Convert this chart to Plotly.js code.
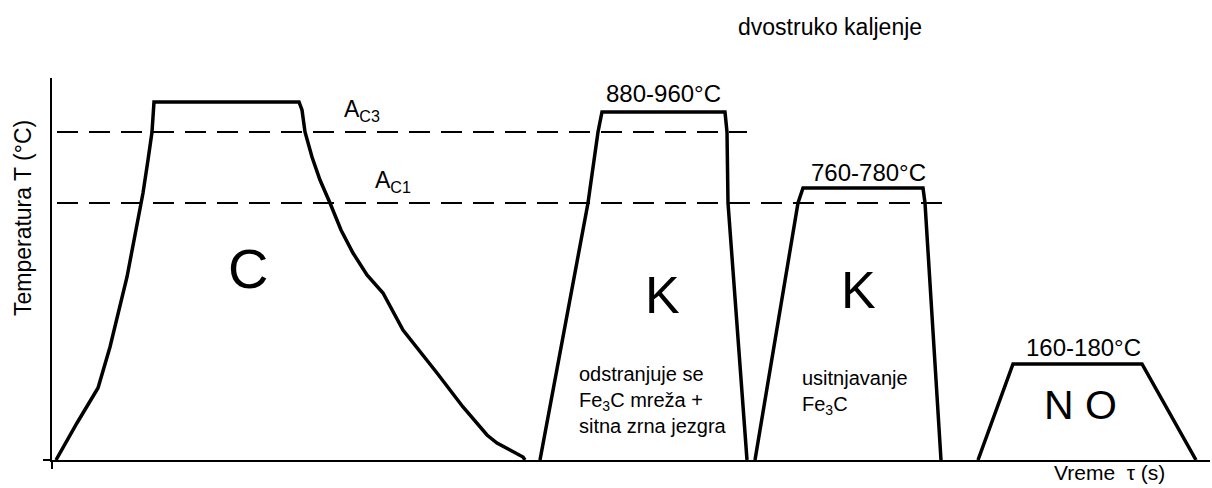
<!DOCTYPE html>
<html>
<head>
<meta charset="utf-8">
<script src="https://cdn.plot.ly/plotly-3.0.1.min.js"></script>
<style>html,body{margin:0;padding:0;background:#fff;}#chart{width:1212px;height:488px;}</style>
</head>
<body>
<div id="chart"></div>
<script>
// Schematic time (arbitrary units) vs. temperature (arbitrary units, height above axis)
const cTime = [4,25,46,58,75,91,96,100,102,247,250,253,260,268,278,289,301,315,331,351,385,411,435,445,458,471,473];
const cTemp = [0,37,72,113,183,267,300,328,358,358,350,328,303,280,257,230,207,185,167,130,87,53,25,17,10,3,0];

const k1Time = [488,536,546,550,673,675,676,695];
const k1Temp = [0,257,328,348,348,328,257,0];

const k2Time = [703,746,751,871,873,889];
const k2Temp = [0,257,272,272,257,0];

const noTime = [926,961,1090,1144];
const noTemp = [0,96,96,0];

const ac3Time = [5,695];
const ac3Temp = [328,328];
const ac1Time = [5,890];
const ac1Temp = [257,257];

const FONT = "Liberation Sans, Arial, sans-serif";

const solid = {color:'#000', width:3.5};
const dashed = {color:'#000', width:1.8, dash:'21px,11px'};

const traces = [
  {x:ac3Time, y:ac3Temp, mode:'lines', line:dashed, hoverinfo:'skip'},
  {x:ac1Time, y:ac1Temp, mode:'lines', line:dashed, hoverinfo:'skip'},
  {x:cTime, y:cTemp, mode:'lines', line:solid},
  {x:k1Time, y:k1Temp, mode:'lines', line:solid},
  {x:k2Time, y:k2Temp, mode:'lines', line:solid},
  {x:noTime, y:noTemp, mode:'lines', line:solid}
];

function ann(x, y, text, size, extra) {
  return Object.assign({x:x, y:y, xref:'x', yref:'y', text:text, showarrow:false,
    xanchor:'center', yanchor:'middle', font:{family:FONT, size:size, color:'#000'}}, extra||{});
}
function pann(x, y, text, size, extra) {
  return ann(x, y, text, size, Object.assign({xref:'paper', yref:'paper'}, extra||{}));
}

const annotations = [
  pann(0.672, 1.133, 'dvostruko kaljenje', 23),
  ann(310, 350, 'A<sub>C3</sub>', 23),
  ann(341, 279, 'A<sub>C1</sub>', 23),
  ann(196, 192, 'C', 56),
  ann(610, 165, 'K', 52),
  ann(806, 170, 'K', 52),
  ann(1028, 55, 'N O', 41),
  ann(611, 367, '880-960°C', 24),
  ann(816, 288, '760-780°C', 24),
  ann(1031, 113, '160-180°C', 24),
  ann(525, 60, 'odstranjuje se<br>Fe<sub>3</sub>C mreža +<br>sitna zrna jezgra', 20, {xanchor:'left', align:'left'}),
  ann(748, 68, 'usitnjavanje<br>Fe<sub>3</sub>C', 20, {xanchor:'left', align:'left'}),
  pann(0.9128, -0.034, 'Vreme  τ (s)', 21),
  pann(-0.025, 0.6335, 'Temperatura T (°C)', 23, {textangle:-90})
];

const layout = {
  width:1212, height:488,
  margin:{l:52, r:2, t:78, b:28},
  paper_bgcolor:'#fff', plot_bgcolor:'#fff',
  showlegend:false,
  xaxis:{range:[0,1158], showgrid:false, zeroline:false, showline:true, linecolor:'#000', linewidth:2,
         ticks:'outside', tickvals:[0], ticklen:7, tickwidth:2, tickcolor:'#000', showticklabels:false, fixedrange:true},
  yaxis:{range:[0,382], showgrid:false, zeroline:false, showline:true, linecolor:'#000', linewidth:2,
         ticks:'outside', tickvals:[0], ticklen:7, tickwidth:2, tickcolor:'#000', showticklabels:false, fixedrange:true},
  annotations:annotations
};

Plotly.newPlot('chart', traces, layout, {displayModeBar:false, staticPlot:true});
</script>
</body>
</html>
